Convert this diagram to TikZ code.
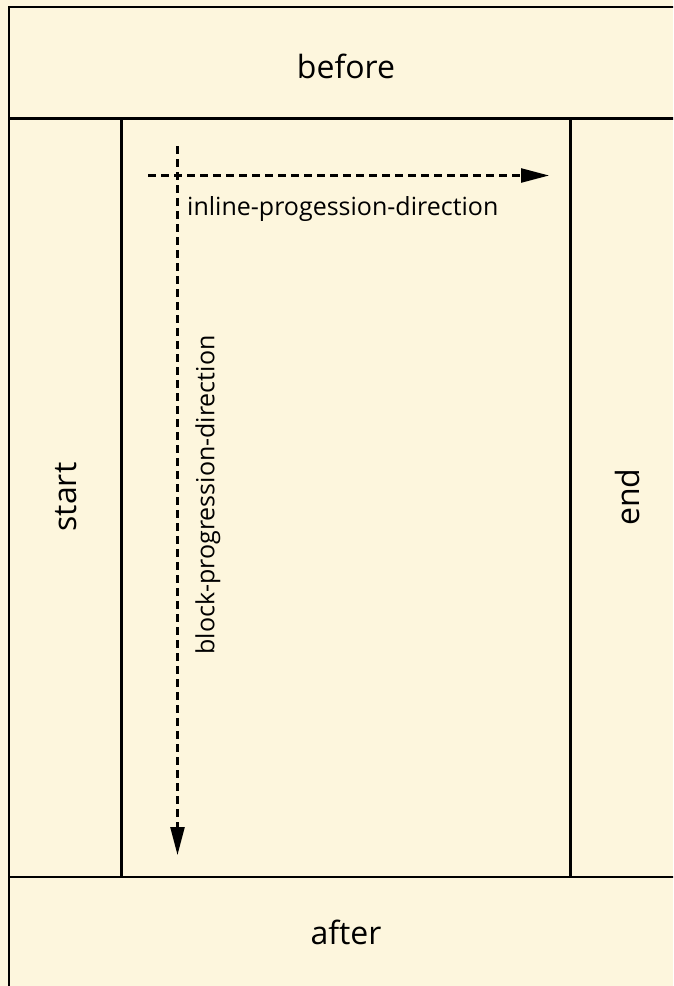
\documentclass[tikz,border=0pt]{standalone}
\usepackage{fontspec}
\setmainfont{Open Sans}
\usetikzlibrary{arrows.meta}
\definecolor{cream}{RGB}{253,246,221}
\tikzset{
  frame/.style={line width=2.8pt, draw=black},
  biglabel/.style={font=\fontsize{32}{36}\selectfont, inner sep=0pt},
  smalllabel/.style={font=\fontsize{25}{28}\selectfont, inner sep=0pt},
  dirarrow/.style={line width=2.4pt, dash pattern=on 8pt off 5pt, -{Triangle[length=28pt,width=14pt]}}
}
\begin{document}
\begin{tikzpicture}[x=1pt,y=-1pt]
\fill[cream] (0,0) rectangle (673,986);
\useasboundingbox (0,0) rectangle (673,986);
\clip (0,0) rectangle (673,986);
% frame
\draw[frame] (9,7) rectangle (683,995);
\draw[frame] (9,118.5) -- (683,118.5);
\draw[frame] (9,877) -- (683,877);
\draw[frame] (121.5,118.5) -- (121.5,877);
\draw[frame] (570.5,118.5) -- (570.5,877);
% labels
\node[biglabel] (before) at (346,66) {before};
\node[biglabel] (after) at (346,932) {after};
\node[biglabel, rotate=90] (start) at (66,497) {start};
\node[biglabel, rotate=90] (end) at (627,497) {end};
% arrows
\coordinate (ia) at (148,175.5);
\coordinate (ib) at (549,175.5);
\coordinate (ba) at (177.5,146);
\coordinate (bb) at (177.5,855);
\draw[dirarrow] (ia) -- (ib);
\draw[dirarrow] (ba) -- (bb);
\node[smalllabel, anchor=west] (inl) at (187,209) {inline-progession-direction};
\node[smalllabel, rotate=90] (blk) at (208,495) {block-progression-direction};
\end{tikzpicture}
\end{document}
